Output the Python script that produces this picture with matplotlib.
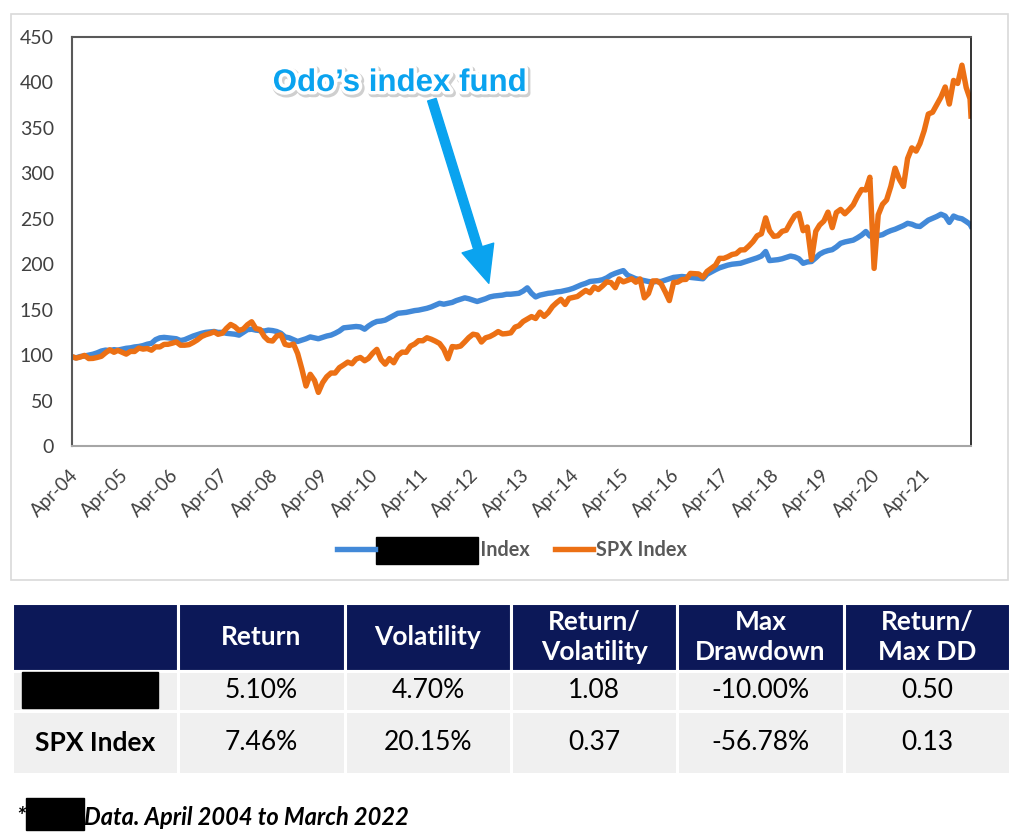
import numpy as np
import pandas as pd
import matplotlib
matplotlib.use("Agg")
import matplotlib.pyplot as plt
import matplotlib.dates as mdates
import matplotlib.patheffects as pe
from matplotlib.patches import Rectangle
from matplotlib.font_manager import FontProperties
from matplotlib.transforms import ScaledTranslation

plt.rcParams['font.family'] = ['Lato', 'DejaVu Sans']

W, H = 1024, 840

# monthly points (start of month), last point = 8 Mar 2022
dates = list(pd.date_range('2004-04-01', '2022-03-01', freq='MS')) + [pd.Timestamp('2022-03-08')]

odo = [
    98, 97, 98.5, 99, 100, 101, 102.5, 104.5, 105.5,                              # 2004
    105, 106, 105.5, 106.5, 107.5, 108, 109, 109.5, 110.5, 112, 113, 117,          # 2005
    119, 119.5, 119, 118.5, 118, 116, 117, 119, 121, 122.5, 124, 125,              # 2006
    125.5, 126, 125, 125, 124, 123.5, 123, 122, 125, 128, 128.5, 127.5,            # 2007
    127, 126.5, 127.5, 127, 126, 124, 120, 119, 117, 115, 116.5, 118,              # 2008
    120, 119, 118, 119.5, 121, 122, 124, 126.5, 130, 130.5, 131, 131.5,            # 2009
    131, 128.5, 132, 135, 137, 137.5, 138.5, 141, 143.5, 146, 146.5, 147,          # 2010
    148, 149, 149.5, 150.5, 151.5, 153, 155, 157, 156, 157, 158, 160,              # 2011
    161.5, 163, 162, 160.5, 159, 160.5, 162, 164, 165, 165.5, 166, 167,            # 2012
    167, 167.5, 168, 170.5, 174, 168, 164, 166, 167, 168, 168.5, 169.5,            # 2013
    170, 171, 172, 173.5, 175.5, 177.5, 179, 181, 181.5, 182, 183, 185,            # 2014
    188, 190, 191.5, 193, 188, 186, 184, 183, 182, 181, 180.5, 181,                # 2015
    181, 182.5, 184, 185.5, 186, 186.5, 186, 185.5, 185, 184.5, 184, 189,          # 2016
    191.5, 194, 196, 197.5, 199, 200, 200.5, 201, 202.5, 204, 205.5, 207,          # 2017
    209, 214, 204, 204.5, 205, 206, 207.5, 209, 208, 206, 201, 202.5,              # 2018
    203, 207, 211, 213.5, 215, 216, 219, 223, 224.5, 225.5, 226.5, 229,            # 2019
    232, 236, 231, 230, 231.5, 232.5, 235, 237, 238.5, 240.5, 242.5, 245,          # 2020
    244, 242, 241.5, 245, 248.5, 250.5, 252.5, 255, 253, 246, 253, 251,            # 2021
    250, 247, 244, 242,                                                            # 2022
]

spx = [
    98.3, 96.7, 97.9, 99.7, 96.2, 96.4, 97.4, 98.7, 102.5,                                  # 2004
    105.9, 103.1, 105.2, 103.1, 101.1, 104.1, 104.0, 107.8, 106.6, 107.3, 105.4, 109.1,     # 2005
    109.0, 111.8, 111.9, 113.1, 114.5, 110.9, 110.9, 111.5, 113.9, 116.7, 120.4, 122.4,     # 2006
    123.8, 125.6, 122.9, 124.1, 129.4, 133.7, 131.3, 127.1, 128.7, 133.4, 136.7, 129.3,     # 2007
    128.2, 120.4, 116.2, 115.5, 121.0, 122.3, 111.8, 110.7, 112.1, 101.8, 84.6, 66.0,       # 2008
    78.9, 72.1, 59.0, 69.7, 76.2, 80.3, 80.3, 86.2, 89.2, 92.3, 90.5, 95.7,                 # 2009
    97.4, 93.8, 96.4, 102.1, 106.3, 95.1, 90.0, 96.2, 91.6, 99.7, 103.3, 103.1,             # 2010
    109.9, 112.3, 115.9, 115.8, 119.1, 117.5, 115.4, 112.8, 106.5, 96.0, 109.4, 108.9,      # 2011
    109.9, 114.6, 119.3, 123.0, 122.1, 114.4, 119.0, 120.4, 122.9, 125.9, 123.3, 123.7,     # 2012
    124.5, 130.8, 132.3, 137.0, 139.6, 142.4, 140.3, 147.3, 142.6, 146.9, 153.5, 157.7,     # 2013
    161.4, 155.7, 162.4, 163.5, 164.5, 168.0, 171.2, 168.6, 174.9, 172.2, 176.2, 180.6,     # 2014
    179.8, 174.2, 183.8, 180.6, 182.2, 184.0, 180.2, 183.8, 163.0, 167.7, 181.6, 181.7,     # 2015
    178.5, 169.4, 160.0, 179.9, 180.3, 183.1, 183.3, 189.9, 189.6, 189.3, 185.7, 192.1,     # 2016
    195.5, 199.0, 206.5, 206.4, 208.2, 210.7, 211.6, 215.7, 215.9, 220.0, 224.9, 231.3,     # 2017
    233.5, 251.0, 237.0, 230.7, 231.3, 236.2, 237.4, 245.9, 253.4, 256.0, 236.9, 241.0,     # 2018
    205.0, 236.2, 243.1, 247.5, 257.3, 240.3, 256.9, 260.3, 255.5, 260.0, 265.3, 274.3,     # 2019
    282.2, 281.7, 295.7, 195.4, 254.3, 265.9, 270.7, 285.7, 305.7, 293.7, 285.6, 316.3,     # 2020
    328.0, 324.4, 332.8, 347.0, 365.2, 367.2, 375.4, 383.8, 395.0, 376.2, 402.2, 398.9,     # 2021
    419.0, 394.4, 382.0, 363.0,                                                             # 2022
]

header = ['', 'Return', 'Volatility', 'Return/\nVolatility', 'Max\nDrawdown', 'Return/\nMax DD']
row_names = ['', 'SPX Index']   # first name is hidden in the source
table_vals = [
    ['5.10%', '4.70%', '1.08', '-10.00%', '0.50'],
    ['7.46%', '20.15%', '0.37', '-56.78%', '0.13'],
]

blue = '#4289D8'
orange = '#EC7014'
callout = '#0AA3EF'

fig = plt.figure(figsize=(W / 100, H / 100), dpi=100)
fig.patch.set_facecolor('white')

# chart frame
fig.add_artist(Rectangle((11 / W, 1 - 580 / H), 997 / W, 566 / H, transform=fig.transFigure,
                         fill=False, edgecolor='#d9d9d9', lw=1.2))

ax = fig.add_axes([72 / W, 1 - 446 / H, 899 / W, 409 / H])
line_odo, = ax.plot(dates, odo, color=blue, lw=3.9, solid_joinstyle='round')
line_spx, = ax.plot(dates, spx, color=orange, lw=3.9, solid_joinstyle='round')

ax.set_ylim(0, 450)
ax.set_yticks(np.arange(0, 451, 50))
ax.set_xlim(dates[0], dates[-1])
ax.xaxis.set_major_locator(mdates.MonthLocator(bymonth=4, bymonthday=1))
ax.xaxis.set_major_formatter(mdates.DateFormatter('%b-%y'))
ax.tick_params(axis='y', length=0, pad=13, labelsize=14, labelcolor='#404040')
ax.tick_params(axis='x', length=0, pad=19, labelsize=13.5, labelcolor='#404040')
for lab in ax.get_xticklabels():
    lab.set_rotation(45)
    lab.set_ha('right')
    lab.set_va('center')
    lab.set_rotation_mode('anchor')
    lab.set_transform(lab.get_transform() + ScaledTranslation(3 / 100, 0, fig.dpi_scale_trans))

ax.spines['left'].set_color('#595959')
ax.spines['left'].set_linewidth(1.5)
ax.spines['top'].set_color('#595959')
ax.spines['top'].set_linewidth(1.5)
ax.spines['bottom'].set_color('#a6a6a6')
ax.spines['bottom'].set_linewidth(1.5)
ax.spines['right'].set_color('#111111')
ax.spines['right'].set_linewidth(1.2)

# callout
ax.annotate('', xy=(pd.Timestamp('2012-07-25'), 179), xytext=(pd.Timestamp('2011-06-06'), 381),
            arrowprops=dict(arrowstyle='simple,head_length=1.33,head_width=1.19,tail_width=0.32',
                            color=callout, mutation_scale=20, shrinkA=0, shrinkB=0))
ax.text(pd.Timestamp('2010-10-15'), 390.6, 'Odo\u2019s index fund', ha='center', va='baseline',
        fontsize=22.5, fontweight='bold', color=callout, family=['Liberation Sans', 'DejaVu Sans'],
        path_effects=[pe.Stroke(linewidth=6, foreground='#cfcfcf', offset=(1.2, -1.5)),
                      pe.Stroke(linewidth=5, foreground='white'), pe.Normal()])

# legend
legend_font = FontProperties(family='Lato', weight='bold', size=14.3)
leg = fig.legend([line_odo, line_spx], [' ' * 21 + 'Index', 'SPX Index'], loc='center',
                 bbox_to_anchor=(0.5, 1 - 550 / H), ncol=2, frameon=False, handlelength=1.9,
                 handletextpad=0.15, columnspacing=1.3, prop=legend_font, labelcolor='#595959')

# table
tax = fig.add_axes([12 / W, 1 - 774 / H, 998 / W, 171 / H])
tax.axis('off')
cell_text = [header] + [[n] + v for n, v in zip(row_names, table_vals)]
tbl = tax.table(cellText=cell_text, cellLoc='center', bbox=[0, 0, 1, 1])
tbl.auto_set_font_size(False)
row_h = [67.5, 40.8, 62.7]
for (r, c), cell in tbl.get_celld().items():
    cell.set_height(row_h[r])
    cell.set_width(1)
    cell.set_edgecolor('white')
    cell.set_linewidth(2.2)
    txt = cell.get_text()
    txt.set_fontsize(19)
    if r == 0:
        cell.set_facecolor('#0c1858')
        txt.set_color('white')
        txt.set_fontweight('bold')
        txt.set_linespacing(1.3)
    else:
        cell.set_facecolor('#f0f0f0')
        txt.set_color('black')
        if c == 0:
            txt.set_fontweight('bold')

# hidden name in table
fig.add_artist(Rectangle((21.7 / W, 1 - 708.3 / H), 136 / W, 36.6 / H, transform=fig.transFigure,
                         color='black'))

# footnote
foot_font = dict(fontsize=17, fontweight='bold', fontstyle='italic', color='black')
fig.text(16 / W, 1 - 825 / H, '*', ha='left', va='baseline', **foot_font)
fig.text(84 / W, 1 - 825 / H, 'Data. April 2004 to March 2022', ha='left', va='baseline', **foot_font)
fig.add_artist(Rectangle((25.7 / W, 1 - 830 / H), 58.6 / W, 32 / H, transform=fig.transFigure,
                         color='black'))

# black box over the hidden series name in the legend
fig.canvas.draw()
rend = fig.canvas.get_renderer()
bb = leg.get_texts()[0].get_window_extent(rend)
tmp = fig.text(0, 0, 'Index', fontproperties=legend_font)
w_idx = tmp.get_window_extent(rend).width
tmp.remove()
x0 = bb.x0 - 2
x1 = bb.x1 - w_idx - 2
yc = (bb.y0 + bb.y1) / 2
fig.add_artist(Rectangle((x0 / W, (yc - 13.5) / H), (x1 - x0) / W, 27 / H,
                         transform=fig.transFigure, color='black'))

fig.savefig('out.png', dpi=100)
